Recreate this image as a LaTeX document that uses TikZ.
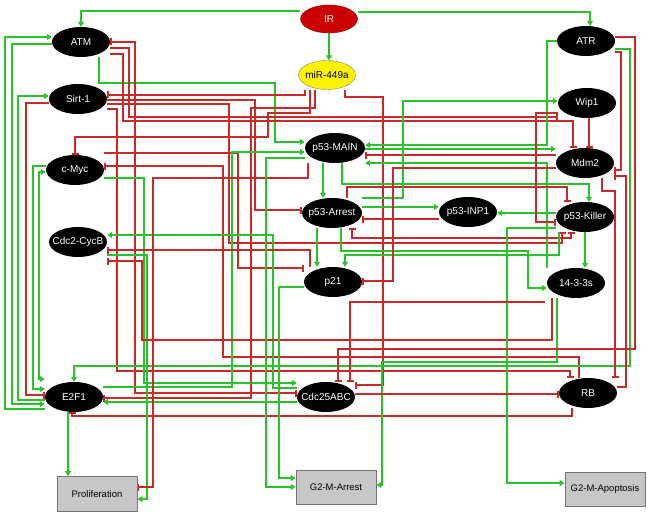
\documentclass[tikz,border=0pt]{standalone}
\usepackage{fontspec}
\setmainfont{Liberation Sans}
\usetikzlibrary{arrows.meta,calc,shapes.geometric,backgrounds}
\definecolor{gn}{RGB}{40,195,40}
\definecolor{rd}{RGB}{205,40,40}
\definecolor{irred}{RGB}{204,0,0}
\newcommand\lbl[1]{\makebox[0pt]{#1}}
\begin{document}
\begin{tikzpicture}[x=1pt,y=-1pt,
  font=\fontsize{10}{12}\selectfont,
  mol/.style={ellipse, fill=black, text=white, minimum width=58pt, minimum height=30pt, inner sep=0pt},
  wmol/.style={mol, minimum width=60pt},
  outbox/.style={rectangle, fill=black!22, draw=black!55, line width=0.9pt, minimum width=80pt, minimum height=34pt, inner sep=0pt, text=black, font=\fontsize{9.5}{11}\selectfont},
  act/.style={gn, line width=1.5pt, -{Triangle[length=5pt,width=6pt]}},
  actb/.style={gn, line width=1.5pt, {Triangle[length=5pt,width=6pt]}-{Triangle[length=5pt,width=6pt]}},
  inh/.style={rd, line width=1.5pt, -{Bar[width=7pt]}},
  inhb/.style={rd, line width=1.5pt, {Bar[width=7pt]}-{Bar[width=7pt]}}]
\useasboundingbox (0,0) rectangle (650,516);
% nodes
\node[mol, fill=irred, draw=irred!70!black, minimum width=57pt, minimum height=28pt] (IR) at (329,19) {\lbl{IR}};
\node[mol] (ATM) at (81,42) {\lbl{ATM}};
\node[mol] (ATR) at (586,41) {\lbl{ATR}};
\node[mol, fill=yellow, draw=black!50, text=black, minimum width=57pt, minimum height=29pt] (miR) at (327,75) {\lbl{miR-449a}};
\node[mol] (Sirt) at (78,99) {\lbl{Sirt-1}};
\node[mol] (Wip1) at (587,103) {\lbl{Wip1}};
\node[wmol] (p53M) at (335,148) {\lbl{p53-MAIN}};
\node[mol] (Mdm2) at (585,163) {\lbl{Mdm2}};
\node[mol] (cMyc) at (75,170) {\lbl{c-Myc}};
\node[wmol] (p53A) at (332,213) {\lbl{p53-Arrest}};
\node[mol] (INP1) at (468,212) {\lbl{p53-INP1}};
\node[mol] (Killer) at (585,217) {\lbl{p53-Killer}};
\node[mol] (Cdc2) at (78,242) {\lbl{Cdc2-CycB}};
\node[mol] (p21) at (333,282) {\lbl{p21}};
\node[mol] (s1433) at (576,283) {\lbl{14-3-3s}};
\node[mol] (E2F1) at (74,397) {\lbl{E2F1}};
\node[mol] (Cdc25) at (326,397) {\lbl{Cdc25ABC}};
\node[mol] (RB) at (588,393) {\lbl{RB}};
\node[outbox, minimum height=35pt] (Prolif) at (97,494) {Proliferation};
\node[outbox] (G2MA) at (336,487) {G2-M-Arrest};
\node[outbox] (G2MAp) at (605,489) {G2-M-Apoptosis};
\begin{scope}[on background layer]
% IR
\draw[act] ($(IR.west)+(0,-8)$) -| (ATM.north);
\draw[act] ($(IR.east)+(0,-7)$) -| ($(ATR.north)+(4,0)$);
\draw[act] (IR.south) -- (IR.south |- miR.north);
% ATM
\draw[act] ($(ATM.south)+(18,0)$) |- (275,83) |- ($(p53M.west)+(0,-6)$);
\draw[inhb] (ATM.east) -| (135,393) -- ($(Cdc25.west)+(0,-4)$);
\draw[inh] ($(ATM.east)+(0,6)$) -| (129,117) -- ($(Wip1.west)+(0,14)$);
\draw[inh] ($(ATM.east)+(0,12)$) -| (123,121) -| ($(Mdm2.north)+(-12,0)$);
% Sirt-1
\draw[inh] ($(miR.south)+(-22,0)$) |- ($(Sirt.east)+(0,-4)$);
\draw[inh] ($(Sirt.east)+(0,1)$) -| (255,210) -- ($(p53A.west)+(0,-3)$);
\draw[inh] ($(Sirt.east)+(0,5)$) -| (229,243) -| ($(Killer.south)+(-23,0)$);
\draw[inh] ($(Sirt.east)+(0,10)$) -| (117,371) -| ($(RB.north)+(-18,0)$);
\draw[inh] ($(Sirt.west)+(0,4)$) -| (26,395) -- ($(E2F1.west)+(0,-2)$);
% miR-449a
\draw[inh] ($(miR.south)+(-17,0)$) |- (268,113) -- (268,137) -| (cMyc.north);
\draw[inh] ($(miR.south)+(-12,0)$) |- (251,108) |- ($(E2F1.east)+(0,1)$);
\draw[inh] ($(miR.south)+(18,0)$) |- (383,97) |- ($(Cdc25.east)+(0,-12)$);
% c-Myc
\draw[inh] ($(cMyc.east)+(0,-17)$) -| (238,268) -- ($(p21.west)+(0,-14)$);
\draw[inh] ($(RB.north)+(-9,0)$) |- (223,357) |- ($(cMyc.east)+(0,-4)$);
\draw[act] ($(cMyc.east)+(0,8)$) -| (144,383) -- ($(Cdc25.west)+(0,-14)$);
\draw[act] ($(cMyc.west)+(0,-4)$) -| (33,389) -- ($(E2F1.west)+(0,-8)$);
\draw[actb] ($(E2F1.west)+(0,-18)$) -| (39,172) -- ($(cMyc.west)+(0,2)$);
% E2F1
\draw[act] ($(E2F1.west)+(0,12)$) -| (5,37) -- ($(ATM.west)+(0,-5)$);
\draw[act] ($(ATM.west)+(0,2)$) -| (12,404) -- ($(E2F1.west)+(0,7)$);
\draw[act] ($(E2F1.west)+(0,3)$) -| (18,96) -- ($(Sirt.west)+(0,-3)$);
\draw[act] ($(E2F1.east)+(0,-10)$) -| (232,152) -- ($(p53M.west)+(0,4)$);
\draw[act] ($(E2F1.south)+(-6,0)$) -- ($(Prolif.north)+(-29,0)$);
\draw[inh] ($(RB.south)+(-16,0)$) |- (72,416) -- ($(E2F1.south)+(-2,0)$);
\draw[act] ($(Cdc25.west)+(0,5)$) -- ($(E2F1.east)+(0,5)$);
\draw[act] ($(ATR.east)+(0,8)$) -| (630,366) -| (E2F1.north);
% Cdc2-CycB
\draw[act] ($(Cdc25.west)+(0,-9)$) -| (273,235) -- ($(Cdc2.east)+(0,-7)$);
\draw[inh] ($(p21.north)+(-23,0)$) |- ($(Cdc2.east)+(0,8)$);
\draw[act] ($(Cdc2.east)+(0,13)$) -| (147,499) -- ($(Prolif.east)+(0,5)$);
\draw[inh] ($(s1433.south)+(-24,0)$) |- (142,340) |- ($(Cdc2.east)+(0,19)$);
% p53-MAIN
\draw[inh] ($(p53M.south)+(-27,0)$) |- (153,178) |- ($(Prolif.east)+(0,-7)$);
\draw[act] ($(p53M.west)+(0,10)$) -| (266,487) -- (G2MA.west);
\draw[act] ($(p53M.south)+(-12,0)$) -- ($(p53A.north)+(-9,0)$);
\draw[act] ($(p53M.south)+(7,0)$) |- (589,184) -- ($(Killer.north)+(4,0)$);
\draw[act] (ATR.west) -| (547,145) -- ($(p53M.east)+(0,-3)$);
\draw[act] ($(p53M.east)+(0,1)$) -- ($(Mdm2.west)+(0,-14)$);
\draw[inh] ($(Mdm2.west)+(0,-8)$) -- ($(p53M.east)+(0,7)$);
\draw[act] ($(s1433.north)+(-29,0)$) |- ($(p53M.east)+(0,15)$);
% p53-Arrest
\draw[inh] ($(p53A.north)+(15,0)$) |- (567,187) -- ($(Killer.north)+(-18,0)$);
\draw[act] ($(p53A.east)+(0,-15)$) -| (403,101) -- ($(Wip1.west)+(0,-2)$);
\draw[act] ($(p53A.east)+(0,-6)$) -- ($(INP1.west)+(0,-5)$);
\draw[inh] ($(INP1.west)+(0,7)$) -- ($(p53A.east)+(0,6)$);
\draw[act] ($(Killer.west)+(0,-4)$) -- ($(INP1.east)+(0,1)$);
\draw[inhb] ($(Killer.south)+(-14,0)$) |- (352,238) -- ($(p53A.south)+(20,0)$);
\draw[act] ($(p53A.south)+(-15,0)$) -- ($(p21.north)+(-16,0)$);
\draw[act] ($(p53A.south)+(9,0)$) |- (528,251) |- ($(s1433.west)+(0,5)$);
\draw[act] ($(Killer.south)+(-26,0)$) |- (345,255) -- ($(p21.north)+(12,0)$);
\draw[act] (Killer.south) -- (Killer.south |- s1433.north);
\draw[act] ($(Killer.west)+(0,11)$) -| (507,483) -- ($(G2MAp.west)+(0,-6)$);
\draw[inh] ($(Wip1.west)+(0,10)$) -| (536,222) -- ($(Killer.west)+(0,5)$);
\draw[inh] ($(Wip1.south)+(2,0)$) -- ($(Mdm2.north)+(4,0)$);
% p21
\draw[act] ($(p21.west)+(0,5)$) -| (279,478) -- ($(G2MA.west)+(0,-9)$);
\draw[inh] ($(Mdm2.west)+(0,5)$) -| (393,281) -- ($(p21.east)+(0,-1)$);
% 14-3-3s
\draw[inh] ($(s1433.south)+(-31,4)$) -| ($(Cdc25.north)+(24,0)$);
\draw[act] ($(s1433.south)+(-19,0)$) |- (382,362) |- ($(G2MA.east)+(0,-2)$);
% Cdc25ABC / RB / Mdm2
\draw[inh] ($(ATR.east)+(0,-4)$) -| (635,349) -| ($(Cdc25.north)+(12,0)$);
\draw[inh] ($(Cdc25.east)+(0,-3)$) -- ($(RB.west)+(0,1)$);
\draw[inh] ($(Mdm2.south)+(17,0)$) |- (615,191) -- ($(RB.north)+(27,0)$);
\draw[inh] ($(ATR.east)+(0,11)$) -| (621,170) -- ($(Mdm2.east)+(0,7)$);
\draw[inh] ($(RB.east)+(0,-6)$) -| (626,176) -- ($(Mdm2.east)+(0,13)$);
\end{scope}
\end{tikzpicture}
\end{document}
